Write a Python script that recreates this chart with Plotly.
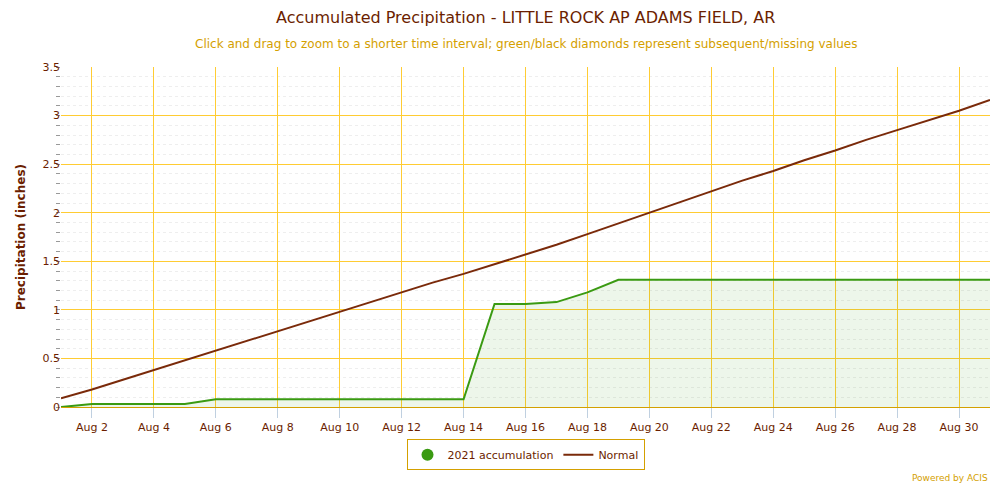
import plotly.graph_objects as go
import pandas as pd

dates = pd.date_range("2021-08-01", "2021-08-31").strftime("%Y-%m-%d").tolist()
acc2021 = [0.0, 0.03, 0.03, 0.03, 0.03, 0.08, 0.08, 0.08, 0.08, 0.08, 0.08, 0.08, 0.08, 0.08,
           1.06, 1.06, 1.08, 1.18, 1.31, 1.31, 1.31, 1.31, 1.31, 1.31, 1.31, 1.31, 1.31, 1.31, 1.31, 1.31, 1.31]
normal = [0.09, 0.18, 0.28, 0.38, 0.48, 0.58, 0.68, 0.78, 0.88, 0.98, 1.08, 1.18, 1.28, 1.37,
          1.47, 1.57, 1.67, 1.78, 1.89, 2.00, 2.11, 2.22, 2.33, 2.43, 2.54, 2.64, 2.75, 2.85, 2.95, 3.05, 3.16]
tickdates = pd.date_range("2021-08-02", "2021-08-30", freq="2D").strftime("%Y-%m-%d").tolist()
ticklabels = [f"Aug {int(d[-2:])}" for d in tickdates]
yticks = [0, 0.5, 1, 1.5, 2, 2.5, 3, 3.5]
yticklabels = ["0", "0.5", "1", "1.5", "2", "2.5", "3", "3.5"]

fig = go.Figure()
fig.add_trace(go.Scatter(x=dates, y=acc2021, mode="lines", showlegend=False,
                         line=dict(color="#3a9a12", width=2), fill="tozeroy",
                         fillcolor="rgba(58,154,18,0.09)"))
fig.add_trace(go.Scatter(x=[None], y=[None], mode="markers", name="2021 accumulation",
                         marker=dict(color="#3a9a12", size=12, symbol="circle")))
fig.add_trace(go.Scatter(x=dates, y=normal, mode="lines", name="Normal",
                         line=dict(color="#7a2a0a", width=2)))
tc = "#6b1e00"
H = 487
T, B = 59, 88
fig.update_layout(
    width=1000, height=H, plot_bgcolor="white", paper_bgcolor="white",
    margin=dict(l=42, r=18, t=T, b=B),
    font=dict(family="DejaVu Sans", size=11, color=tc),
    legend=dict(orientation="h", x=0.5, xanchor="center", y=-0.095, yanchor="top",
                bordercolor="#d4a000", borderwidth=1, font=dict(size=11, color=tc)),
    xaxis=dict(range=["2021-08-01", "2021-08-31"], tickvals=tickdates, ticktext=ticklabels,
               showgrid=True, gridcolor="#ffcc33", gridwidth=1.3, ticks="outside",
               tickcolor="#c0d0e0", ticklen=10, showline=True, linecolor="#d4a000"),
    yaxis=dict(range=[0, 3.5], tickvals=yticks, ticktext=yticklabels, showgrid=True,
               gridcolor="#ffcc33", gridwidth=1.3, zeroline=False,
               title=dict(text="<b>Precipitation (inches)</b>", font=dict(size=12, color=tc), standoff=14),
               minor=dict(dtick=0.1, showgrid=True, gridcolor="#eeeeee", griddash="dot",
                          ticks="outside", ticklen=4, tickcolor="#999999")),
)
fig.add_annotation(text="Accumulated Precipitation - LITTLE ROCK AP ADAMS FIELD, AR",
                   x=0.5, xref="paper", y=9, yref="paper", yanchor="middle", showarrow=False,
                   font=dict(size=16, color=tc))
fig.add_annotation(text="Click and drag to zoom to a shorter time interval; green/black diamonds represent subsequent/missing values",
                   x=0.5, xref="paper", y=36, yref="paper", yanchor="middle", showarrow=False,
                   font=dict(size=12, color="#d4a000"))
fig.add_annotation(text="Powered by ACIS", x=1.0, xref="paper", xanchor="right", y=470,
                   yref="paper", yanchor="middle", showarrow=False, font=dict(size=9, color="#d4a000"))
plot_top, plot_bot = T, H - B
for a in fig.layout.annotations:
    a.y = (plot_bot - a.y) / (plot_bot - plot_top)
fig.write_html("out.html")
